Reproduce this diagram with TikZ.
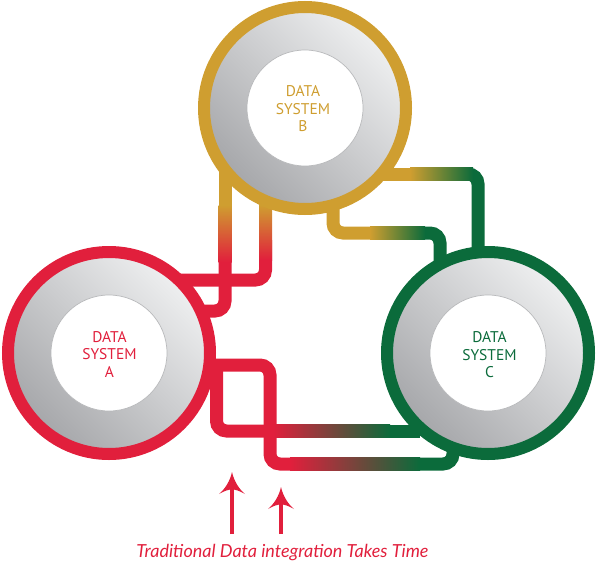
\documentclass[tikz,border=0pt]{standalone}
\usepackage{fontspec}
\setmainfont{Lato}
\newfontfamily\systemfont{PT Sans}
\definecolor{redc}{HTML}{E11F3C}
\definecolor{goldc}{HTML}{CF9E30}
\definecolor{greenc}{HTML}{0B6B3B}
\definecolor{greyL}{HTML}{EDEEEF}
\definecolor{greyD}{HTML}{A7A8AB}
\definecolor{rimgrey}{HTML}{B8B9BB}
\begin{document}
\begin{tikzpicture}[x=1pt,y=-1pt,
  pipe/.style={line width=13pt, rounded corners=10pt},
  ringline/.style={line width=12pt},
  disc/.style={top color=greyL, bottom color=greyD, shading angle=-45},
  innerdisc/.style={fill=white, draw=rimgrey, line width=0.7pt},
  sys/.style={align=center, inner sep=0pt, font=\systemfont\fontsize{15.5}{17.5}\selectfont},
  shaft/.style={draw=redc, line width=4.5pt},
  ahead/.pic={\fill[redc] (0,0) .. controls (-2,9) and (-7,17) .. (-13,22)
      .. controls (-7,18.5) and (-3,17.5) .. (0,17.5)
      .. controls (3,17.5) and (7,18.5) .. (13,22)
      .. controls (7,17) and (2,9) .. (0,0) -- cycle;}
]
\useasboundingbox (0,0) rectangle (599,562);
% centres
\coordinate (A) at (109,353);
\coordinate (B) at (305,108);
\coordinate (C) at (488,353);

% ---- pipes B -> A
\draw[pipe, goldc] (225,170) -- (225,206);
\draw[pipe, redc] (225,240) -- (225,311) -- (198,311);
\shade[top color=goldc, bottom color=redc] (218.5,205) rectangle (231.5,262);

\draw[pipe, goldc] (265.5,200) -- (265.5,206);
\draw[pipe, redc] (265.5,240) -- (265.5,280) -- (172,280);
\shade[top color=goldc, bottom color=redc] (259,205) rectangle (272,260);

% ---- pipes B -> C
\draw[pipe, goldc] (380,174) -- (411,174);
\draw[pipe, greenc] (445,174) -- (478,174) -- (478,255);
\shade[left color=goldc, right color=greenc] (410,167.5) rectangle (473,180.5);

\draw[pipe, goldc] (333,203) -- (333,233) -- (371,233);
\draw[pipe, greenc] (405,233) -- (440,233) -- (440,265);
\shade[left color=goldc, right color=greenc] (370,226.5) rectangle (425,239.5);

% ---- pipes A -> C
\draw[pipe, redc] (207,365) -- (270,365) -- (270,464) -- (291,464);
\draw[pipe, greenc] (390,464) -- (453,464) -- (453,445);
\shade[left color=redc, right color=greenc] (290,457.5) rectangle (420,470.5);

\draw[pipe, redc] (216.5,370) -- (216.5,431) -- (274,431);
\draw[pipe, greenc] (360,431) -- (420,431);
\shade[left color=redc, right color=greenc] (273,424.5) rectangle (390,437.5);

% ---- systems
\foreach \c/\col in {A/redc, B/goldc, C/greenc}{
  \shade[disc] (\c) circle[radius=96pt];
  \draw[ringline, \col] (\c) circle[radius=101pt];
  \draw[innerdisc] (\c) circle[radius=58pt];
}
\node[sys, text=redc] (tA) at (109.5,354) {DATA\\SYSTEM\\A};
\node[sys, text=goldc] (tB) at (303,109) {DATA\\SYSTEM\\B};
\node[sys, text=greenc] (tC) at (489.5,355) {DATA\\SYSTEM\\C};

% ---- arrows
\coordinate (s1) at (232,534);
\coordinate (e1) at (232,488);
\coordinate (h1) at (232,472);
\coordinate (s2) at (281,534);
\coordinate (e2) at (281,503);
\coordinate (h2) at (281,487);
\draw[shaft] (s1) -- (e1);
\draw[shaft] (s2) -- (e2);
\pic at (h1) {ahead};
\pic at (h2) {ahead};

\node[anchor=base, text=redc, font=\itshape\fontsize{18}{20}\selectfont, inner sep=0pt] (cap) at (282.5,557) {Traditional Data integration Takes Time};
\end{tikzpicture}
\end{document}
